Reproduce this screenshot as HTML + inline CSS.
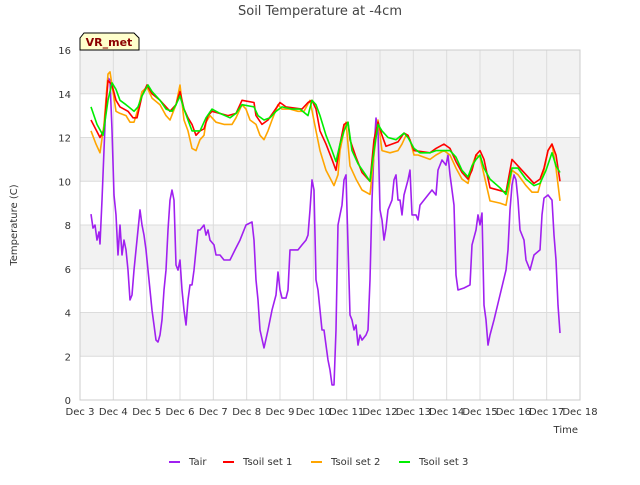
<!DOCTYPE html>
<html><head><meta charset="utf-8"><style>
body{margin:0;background:#fff;font-family:"Liberation Sans","DejaVu Sans",sans-serif}
</style></head><body>
<svg id="c" width="640" height="480" xmlns="http://www.w3.org/2000/svg" style="font-family:'DejaVu Sans','Liberation Sans',sans-serif">
<rect width="640" height="480" fill="#fff"/>
<text x="320" y="15" text-anchor="middle" font-size="13" fill="#444">Soil Temperature at -4cm</text>
<text x="0" y="0" transform="translate(17,225) rotate(-90)" text-anchor="middle" font-size="10" fill="#333">Temperature (C)</text>
<text x="578" y="433" text-anchor="end" font-size="10" fill="#333">Time</text>
<g id="grid"></g><g id="series"></g>
<g>
<path d="M80,50 L80,38 L84,33 L134,33 L139,38 L139,50 Z" fill="#ffffcc" stroke="#000" stroke-width="1"/>
<text x="109" y="46" text-anchor="middle" font-size="11" font-weight="bold" fill="#8b0000">VR_met</text></g>
<g id="legend"></g>
</svg>
<script>
const yTicks=[0,2,4,6,8,10,12,14,16];
const xTickLabels=["Dec 3","Dec 4","Dec 5","Dec 6","Dec 7","Dec 8","Dec 9","Dec 10","Dec 11","Dec 12","Dec 13","Dec 14","Dec 15","Dec 16","Dec 17","Dec 18"];
const seriesNames=["Tair","Tsoil set 1","Tsoil set 2","Tsoil set 3"];
const seriesColors=["#a020f0","#ff0000","#ffa500","#00ee00"];
const tairT=[0.33,0.39,0.45,0.51,0.57,0.60,0.66,0.72,0.78,0.84,0.90,0.96,1.02,1.08,1.14,1.20,1.26,1.32,1.38,1.44,1.50,1.56,1.62,1.68,1.74,1.80,1.86,1.92,1.98,2.04,2.10,2.16,2.22,2.28,2.34,2.40,2.46,2.52,2.58,2.64,2.70,2.76,2.82,2.88,2.94,3.00,3.06,3.12,3.18,3.24,3.30,3.36,3.42,3.48,3.54,3.60,3.72,3.78,3.84,3.90,4.02,4.08,4.20,4.32,4.50,4.65,4.80,4.98,5.16,5.22,5.28,5.34,5.40,5.52,5.64,5.76,5.88,5.94,6.00,6.06,6.18,6.24,6.30,6.42,6.54,6.66,6.78,6.84,6.90,6.96,7.02,7.08,7.14,7.20,7.26,7.32,7.38,7.44,7.50,7.56,7.62,7.68,7.74,7.80,7.86,7.92,7.98,8.04,8.10,8.16,8.22,8.28,8.34,8.40,8.46,8.58,8.64,8.70,8.76,8.82,8.88,8.94,9.00,9.06,9.12,9.18,9.24,9.36,9.42,9.48,9.54,9.60,9.66,9.72,9.84,9.90,9.96,10.08,10.14,10.20,10.44,10.56,10.68,10.74,10.86,10.98,11.04,11.10,11.22,11.28,11.34,11.52,11.70,11.76,11.88,11.94,12.00,12.06,12.12,12.18,12.24,12.30,12.42,12.60,12.78,12.84,12.90,12.96,13.02,13.08,13.14,13.20,13.32,13.38,13.50,13.62,13.80,13.86,13.92,14.04,14.16,14.22,14.28,14.34,14.40];
const tairV=[8.5,7.86,8.0,7.31,7.68,7.13,9.14,11.43,13.71,14.72,14.63,12.34,9.37,8.46,6.63,8.0,6.63,7.31,6.86,5.94,4.57,4.8,5.94,6.86,7.77,8.69,8.0,7.54,6.86,5.94,5.03,4.11,3.43,2.74,2.65,2.97,3.66,5.03,5.94,7.77,9.14,9.6,9.14,6.17,5.94,6.4,5.03,4.11,3.43,4.57,5.26,5.26,5.94,6.86,7.77,7.77,8.0,7.54,7.77,7.31,7.09,6.63,6.63,6.4,6.4,6.86,7.31,8.0,8.14,7.31,5.49,4.57,3.2,2.38,3.2,4.11,4.8,5.85,5.03,4.66,4.66,5.03,6.86,6.86,6.86,7.09,7.31,7.54,8.69,10.06,9.6,5.49,5.03,4.11,3.2,3.2,2.51,1.83,1.37,0.69,0.69,3.2,8.0,8.46,8.91,10.06,10.29,7.09,3.89,3.66,3.2,3.43,2.51,2.97,2.74,2.97,3.2,5.49,9.14,11.43,12.89,12.34,8.69,8.23,7.31,7.86,8.69,9.14,10.06,10.29,9.14,9.14,8.46,9.37,10.06,10.51,8.46,8.46,8.23,8.91,9.37,9.6,9.37,10.51,10.97,10.74,11.2,10.29,8.91,5.71,5.03,5.12,5.26,7.09,7.77,8.46,8.0,8.55,4.34,3.66,2.51,2.97,3.66,4.8,5.94,6.86,8.69,9.83,10.29,10.06,9.14,7.77,7.31,6.4,5.94,6.63,6.86,8.46,9.23,9.37,9.14,7.54,6.4,4.34,3.06];
const soil1T=[0.33,0.60,0.72,0.84,0.96,1.08,1.20,1.44,1.59,1.71,1.86,2.01,2.16,2.40,2.70,2.88,3.00,3.12,3.24,3.36,3.48,3.60,3.72,3.84,3.96,4.44,4.68,4.86,5.22,5.28,5.46,5.64,5.82,6.00,6.18,6.66,6.84,6.96,7.08,7.20,7.38,7.56,7.68,7.80,7.92,8.04,8.10,8.28,8.46,8.70,8.82,8.94,9.06,9.18,9.54,9.72,9.84,10.02,10.50,10.68,10.92,11.10,11.28,11.46,11.64,11.76,11.88,12.00,12.12,12.30,12.78,12.96,13.14,13.38,13.62,13.80,13.92,14.04,14.16,14.28,14.40];
const soil1V=[12.8,12.0,12.34,14.6,14.4,13.7,13.4,13.2,12.9,12.9,13.9,14.4,14.0,13.7,13.2,13.5,14.1,13.3,12.9,12.6,12.1,12.3,12.4,13.0,13.2,13.0,13.1,13.7,13.6,13.0,12.6,12.8,13.2,13.6,13.4,13.3,13.6,13.7,13.3,12.3,11.7,11.0,10.5,11.7,12.6,12.7,11.9,11.1,10.4,10.0,11.9,12.7,12.1,11.6,11.8,12.2,12.1,11.4,11.3,11.5,11.7,11.5,10.9,10.4,10.1,10.5,11.2,11.4,11.0,9.7,9.5,11.0,10.7,10.3,9.9,10.1,10.6,11.4,11.7,11.2,10.0];
const soil2T=[0.33,0.48,0.60,0.72,0.84,0.90,0.96,1.08,1.20,1.38,1.50,1.62,1.74,1.86,2.01,2.16,2.40,2.58,2.70,2.88,3.00,3.12,3.24,3.36,3.48,3.60,3.72,3.78,3.90,4.08,4.32,4.56,4.68,4.86,4.98,5.10,5.28,5.40,5.52,5.64,5.76,5.94,6.06,6.30,6.54,6.72,6.90,7.08,7.20,7.38,7.62,7.74,7.80,7.92,7.98,8.10,8.28,8.46,8.70,8.82,8.94,9.06,9.30,9.54,9.66,9.78,9.90,10.02,10.14,10.50,10.68,10.92,11.10,11.28,11.46,11.64,11.76,11.88,12.00,12.12,12.30,12.60,12.78,12.96,13.14,13.38,13.56,13.74,13.92,14.04,14.16,14.28,14.40];
const soil2V=[12.3,11.7,11.3,12.6,14.9,15.0,14.4,13.2,13.1,13.0,12.7,12.7,13.3,14.1,14.3,13.8,13.5,13.0,12.8,13.5,14.4,12.8,12.3,11.5,11.4,11.9,12.1,12.7,13.0,12.7,12.6,12.6,12.9,13.5,13.3,12.8,12.6,12.1,11.9,12.3,12.8,13.5,13.3,13.3,13.2,13.2,13.7,12.3,11.4,10.5,9.8,10.3,11.4,12.3,12.7,10.7,10.1,9.6,9.4,11.2,12.8,11.4,11.3,11.4,11.7,12.1,11.9,11.2,11.2,11.0,11.2,11.4,11.2,10.6,10.1,9.9,10.7,11.2,11.1,10.3,9.1,9.0,8.9,10.5,10.3,9.8,9.5,9.5,10.5,11.4,11.7,10.6,9.1];
const soil3T=[0.33,0.51,0.69,0.84,0.96,1.08,1.20,1.38,1.62,1.74,1.86,2.04,2.16,2.40,2.58,2.76,2.88,3.00,3.12,3.24,3.36,3.60,3.78,3.96,4.20,4.50,4.68,4.86,5.22,5.34,5.52,5.70,5.88,6.06,6.36,6.60,6.84,6.96,7.08,7.20,7.38,7.56,7.68,7.80,7.92,8.04,8.16,8.34,8.52,8.70,8.82,8.94,9.06,9.24,9.48,9.72,9.84,10.02,10.20,10.50,10.68,10.92,11.10,11.28,11.46,11.64,11.76,11.88,12.00,12.12,12.30,12.60,12.78,12.96,13.14,13.38,13.62,13.80,13.98,14.16,14.28,14.40];
const soil3V=[13.4,12.6,12.1,13.7,14.5,14.2,13.7,13.5,13.2,13.4,13.9,14.4,14.1,13.7,13.3,13.2,13.5,13.9,13.3,12.8,12.3,12.3,12.9,13.3,13.1,12.9,13.1,13.5,13.4,13.0,12.8,12.9,13.2,13.4,13.3,13.3,13.0,13.7,13.5,13.0,12.1,11.4,10.9,11.7,12.3,12.7,11.4,10.8,10.4,10.0,11.4,12.6,12.3,12.0,11.9,12.2,12.0,11.5,11.3,11.3,11.4,11.4,11.4,11.1,10.5,10.2,10.7,11.0,11.2,10.6,10.1,9.7,9.4,10.6,10.6,10.1,9.8,9.9,10.5,11.3,10.7,10.4];
const L=80,R=580,T=50,B=400;
const xS=d=>L+d*(R-L)/15, yS=v=>B-v*(B-T)/16;
const NS="http://www.w3.org/2000/svg";
function mk(tag,attrs,parent){const e=document.createElementNS(NS,tag);for(const k in attrs)e.setAttribute(k,attrs[k]);parent.appendChild(e);return e;}
const grid=document.getElementById('grid');
for(let i=0;i<yTicks.length-1;i++){
 const r=mk('rect',{x:L,y:yS(yTicks[i+1]),width:R-L,height:yS(yTicks[i])-yS(yTicks[i+1]),fill:(i%2===1)?'#f2f2f2':'#ffffff'},grid);
 
 
}
yTicks.forEach(v=>{
 const l=mk('line',{x1:L,x2:R,y1:yS(v),y2:yS(v),stroke:'#dcdcdc','stroke-width':1},grid);
 
 
 const t=mk('text',{x:L-9,y:yS(v)+4,'text-anchor':'end','font-size':10,fill:'#333'},grid);
 t.textContent=v;
 
 
});
xTickLabels.forEach((s,i)=>{
 const l=mk('line',{x1:xS(i),x2:xS(i),y1:T,y2:B,stroke:'#dcdcdc','stroke-width':1},grid);
 
 
 const t=mk('text',{x:xS(i),y:B+15,'text-anchor':'middle','font-size':10,fill:'#333'},grid);
 t.textContent=s;
 
 
});
const border=mk('rect',{x:L,y:T,width:R-L,height:B-T,fill:'none',stroke:'#ccc'},grid);


const sg=document.getElementById('series');
const data=[[tairT,tairV],[soil1T,soil1V],[soil2T,soil2V],[soil3T,soil3V]];
const order=[0,2,1,3];
order.forEach(k=>{
 const [ts,vs]=data[k];
 const d=ts.map((t,i)=>(i?'L':'M')+xS(t).toFixed(1)+','+yS(vs[i]).toFixed(1)).join(' ');
 const p=mk('path',{d:d,fill:'none',stroke:seriesColors[k],'stroke-width':1.6,'stroke-linejoin':'round'},sg);
 
 
});
const lg=document.getElementById('legend');
const lx=[169,223,311,399];
seriesNames.forEach((n,i)=>{
 const g=mk('g',{},lg);
 
 
 mk('line',{x1:lx[i],x2:lx[i]+11,y1:462,y2:462,stroke:seriesColors[i],'stroke-width':2},g);
 const t=mk('text',{x:lx[i]+20,y:465,'font-size':10,fill:'#333'},g);
 t.textContent=n;
});
</script>
</body></html>
